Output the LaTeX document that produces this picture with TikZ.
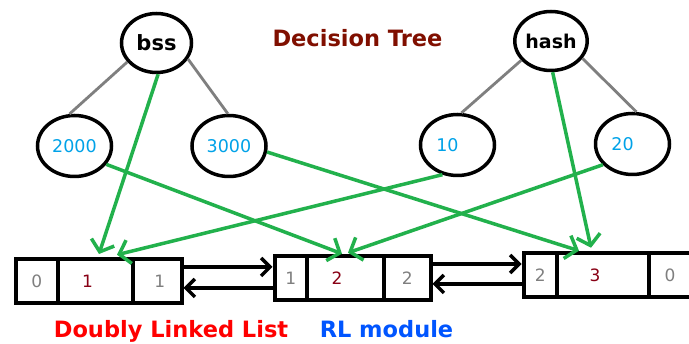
\documentclass[tikz,border=0pt]{standalone}
\usepackage{fontspec}
\setmainfont{DejaVu Sans}
\usetikzlibrary{shapes.geometric,arrows.meta}

\definecolor{pgreen}{HTML}{22B14C}
\definecolor{branchgray}{HTML}{7F7F7F}
\definecolor{keyblue}{HTML}{00A2E8}
\definecolor{valred}{HTML}{880015}
\definecolor{linkgray}{HTML}{7F7F7F}
\definecolor{treetitle}{HTML}{800F00}
\definecolor{listred}{HTML}{FF0000}
\definecolor{rlblue}{HTML}{0055FF}

\begin{document}
\begin{tikzpicture}[x=1pt,y=-1pt,
  treenode/.style={ellipse,draw=black,line width=3.5pt,inner sep=0pt,
    minimum width=74pt,minimum height=61pt},
  keynode/.style={treenode,font=\fontsize{17.5}{20}\selectfont,text=keyblue},
  opnode/.style={treenode,minimum width=70pt,minimum height=59pt,font=\bfseries\fontsize{21}{24}\selectfont},
  branch/.style={draw=branchgray,line width=2.8pt},
  pointer/.style={draw=pgreen,line width=3.5pt,-{Straight Barb[length=10pt,width=24pt]}},
  cell/.style={draw=black,line width=4pt,minimum height=44.5pt,inner sep=0pt,
    font=\fontsize{17}{20}\selectfont,text=linkgray},
  valcell/.style={cell,text=valred},
  link/.style={draw=black,line width=3.5pt,-{Straight Barb[length=9pt,width=18pt]}},
  caption/.style={anchor=base,font=\bfseries\fontsize{22.5}{26}\selectfont},
]
\useasboundingbox[fill=white] (0,0) rectangle (689,344);

% decision trees
\node[opnode] (bss) at (156.5,43) {bss};
\node[keynode] (n2000) at (74.5,146) {2000};
\node[keynode] (n3000) at (229,146) {3000};
\node[opnode,minimum width=63pt,font=\bfseries\fontsize{19}{22}\selectfont] (hash) at (551,41) {hash};
\node[keynode] (n10) at (457.5,145) {10\hspace*{20pt}};
\node[keynode] (n20) at (632.5,144) {20\hspace*{20pt}};

\node[caption,text=treetitle,font=\bfseries\fontsize{22.5}{26}\selectfont] (dtitle) at (357.5,47) {Decision Tree};

\draw[branch] (bss.213) -- (n2000.99);
\draw[branch] (bss.-27) -- (n3000.92);
\draw[branch] (hash.213) -- (n10.83);
\draw[branch] (hash.-29) -- (n20.83);

% doubly linked list
\node[cell,minimum width=42.5pt] (b1a) at (36.75,281) {0};
\node[valcell,minimum width=75pt] (b1b) at (95.5,281) {1\hspace*{16pt}};
\node[cell,minimum width=48.5pt] (b1c) at (157.25,281) {\hspace*{5pt}1};

\node[cell,minimum width=32.5pt] (b2a) at (290.75,278) {1};
\node[valcell,minimum width=77pt] (b2b) at (345.5,278) {2\hspace*{17pt}};
\node[cell,minimum width=46.5pt] (b2c) at (407.25,278) {2};

\node[cell,minimum width=33.5pt] (b3a) at (540.25,275) {2};
\node[valcell,minimum width=92pt] (b3b) at (603,275) {3\hspace*{16pt}};
\node[cell,minimum width=48pt] (b3c) at (673,275) {0\hspace*{6pt}};

\draw[link] ([yshift=14pt]b1c.east) -- ([yshift=11pt]b2a.west);
\draw[link] ([yshift=-10pt]b2a.west) -- ([yshift=-7pt]b1c.east);
\draw[link] ([yshift=14pt]b2c.east) -- ([yshift=11pt]b3a.west);
\draw[link] ([yshift=-9pt]b3a.west) -- ([yshift=-6pt]b2c.east);

% pointers from the tree nodes into the list
\draw[pointer] (bss.-87) -- ([xshift=3.5pt,yshift=2.75pt]b1b.north);
\draw[pointer] (n10.243) -- ([xshift=21.5pt,yshift=2pt]b1b.north);
\draw[pointer] (n2000.-30) -- ([xshift=-3.5pt,yshift=0pt]b2b.north);
\draw[pointer] (n20.215) -- ([xshift=2.5pt,yshift=1pt]b2b.north);
\draw[pointer] (n3000.-9) -- ([xshift=-24pt,yshift=0pt]b3b.north);
\draw[pointer] (hash.-87) -- ([xshift=-12pt,yshift=3pt]b3b.north);

% captions
\node[caption,text=listred] (dll) at (171,338) {Doubly Linked List};
\node[caption,text=rlblue] (rl) at (386.5,338) {RL module};
\end{tikzpicture}
\end{document}
